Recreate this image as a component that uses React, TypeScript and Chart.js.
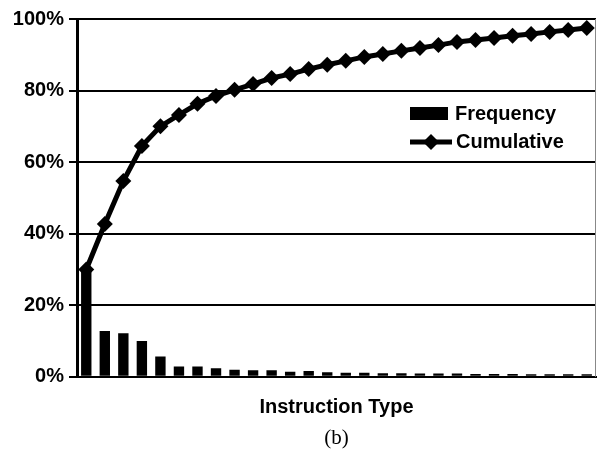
import React, { useEffect, useRef } from "react";
import { Chart, registerables } from "chart.js";

Chart.register(...registerables);

const categories: string[] = Array.from({ length: 28 }, (_, i) => `T${i + 1}`);
const frequency: number[] = [
  30, 12.8, 12.2, 10, 5.7, 2.9, 2.9, 2.4, 2.0, 1.8, 1.8, 1.4, 1.6, 1.3,
  1.1, 1.1, 1.0, 1.0, 0.9, 0.9, 0.9, 0.8, 0.8, 0.8, 0.7, 0.7, 0.7, 0.7,
];
const cumulative: number[] = [
  30, 42.7, 54.7, 64.5, 70, 73.2, 76.3, 78.5, 80.2, 81.8, 83.5, 84.6, 86, 87.2,
  88.3, 89.4, 90.2, 91.1, 91.9, 92.7, 93.6, 94.1, 94.7, 95.3, 95.8, 96.4, 96.9, 97.5,
];
const yTicks: number[] = [0, 20, 40, 60, 80, 100];
const seriesNames: string[] = ["Frequency", "Cumulative"];
const xTitle = "Instruction Type";
const caption = "(b)";

const FONT = "'Liberation Sans', Arial, Helvetica, sans-serif";

const legendPlugin = {
  id: "insideLegend",
  afterDatasetsDraw(chart: any) {
    const { ctx, chartArea } = chart;
    const L = chartArea.left;
    const T = chartArea.top;
    ctx.save();
    // right border
    ctx.strokeStyle = "#888";
    ctx.lineWidth = 1;
    ctx.beginPath();
    ctx.moveTo(chartArea.right - 0.5, chartArea.top);
    ctx.lineTo(chartArea.right - 0.5, chartArea.bottom);
    ctx.stroke();

    // Frequency swatch
    const x0 = L + 333;
    ctx.fillStyle = "#000";
    ctx.fillRect(x0, T + 88, 38, 13);
    ctx.font = `bold 20px ${FONT}`;
    ctx.textBaseline = "middle";
    ctx.textAlign = "left";
    ctx.fillText(seriesNames[0], x0 + 45, T + 95);

    // Cumulative line + diamond
    const yl = T + 123;
    ctx.strokeStyle = "#000";
    ctx.lineWidth = 5;
    ctx.beginPath();
    ctx.moveTo(x0, yl);
    ctx.lineTo(x0 + 42, yl);
    ctx.stroke();
    const cx = x0 + 21;
    const r = 8;
    ctx.beginPath();
    ctx.moveTo(cx, yl - r);
    ctx.lineTo(cx + r, yl);
    ctx.lineTo(cx, yl + r);
    ctx.lineTo(cx - r, yl);
    ctx.closePath();
    ctx.fill();
    ctx.fillText(seriesNames[1], x0 + 46, yl);
    ctx.restore();
  },
};

export default function App() {
  const ref = useRef<HTMLCanvasElement | null>(null);

  useEffect(() => {
    if (!ref.current) return;
    const chart = new Chart(ref.current, {
      type: "bar",
      data: {
        labels: categories,
        datasets: [
          {
            type: "line",
            label: seriesNames[1],
            data: cumulative,
            borderColor: "#000",
            backgroundColor: "#000",
            borderWidth: 5,
            pointStyle: "rectRot",
            pointRadius: 8,
            pointBackgroundColor: "#000",
            pointBorderColor: "#000",
            pointBorderWidth: 0,
            tension: 0,
            order: 0,
            clip: false as any,
          } as any,
          {
            type: "bar",
            label: seriesNames[0],
            data: frequency,
            backgroundColor: "#000",
            borderWidth: 0,
            barPercentage: 0.56,
            categoryPercentage: 1,
            order: 1,
          },
        ],
      },
      options: {
        animation: false,
        responsive: false,
        maintainAspectRatio: false,
        layout: { autoPadding: false, padding: { top: 19, right: 1, left: 0, bottom: 0 } },
        plugins: {
          legend: { display: false },
          tooltip: { enabled: false },
          title: {
            display: true,
            text: caption,
            position: "bottom",
            fullSize: false,
            color: "#000",
            font: { family: "'Liberation Serif', 'Times New Roman', serif", size: 21, weight: "normal" },
            padding: { top: 5, bottom: 1 },
          } as any,
        },
        scales: {
          x: {
            grid: { display: false },
            border: { display: true, color: "#000", width: 2 },
            ticks: { display: false },
            title: {
              display: true,
              text: xTitle,
              color: "#000",
              font: { family: FONT, size: 20, weight: "bold" },
              padding: { top: 0, bottom: 1 },
            },
            afterFit: (s: any) => {
              s.height = 44;
            },
          },
          y: {
            min: 0,
            max: 100,
            afterBuildTicks: (s: any) => {
              s.ticks = yTicks.map((v) => ({ value: v }));
            },
            ticks: {
              callback: (v: any) => `${v}%`,
              color: "#000",
              font: { family: FONT, size: 20, weight: "bold" },
              padding: 5,
            },
            grid: {
              color: "#000",
              lineWidth: 2,
              tickLength: 8,
              drawTicks: true,
            },
            border: { display: true, color: "#000", width: 3 },
            afterFit: (s: any) => {
              s.width = 77;
            },
          },
        },
      },
      plugins: [legendPlugin],
    });
    return () => chart.destroy();
  }, []);

  return (
    <div style={{ position: "absolute", left: 0, top: 0, width: 597, height: 452, background: "#fff" }}>
      <canvas ref={ref} width={597} height={452} style={{ width: 597, height: 452, display: "block" }} />
    </div>
  );
}
